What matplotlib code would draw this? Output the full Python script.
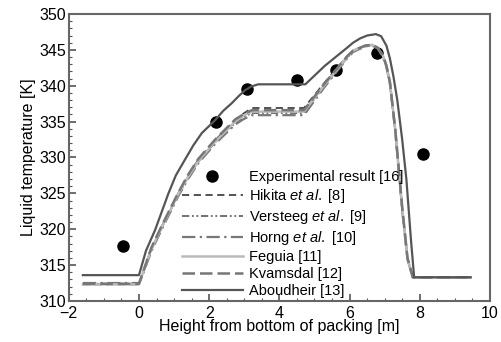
import matplotlib
matplotlib.use('Agg')
import matplotlib.pyplot as plt
from matplotlib.ticker import MultipleLocator

plt.rcParams['font.family'] = ['Liberation Sans', 'DejaVu Sans']
plt.rcParams['mathtext.fontset'] = 'custom'
plt.rcParams['mathtext.rm'] = 'Liberation Sans'
plt.rcParams['mathtext.it'] = 'Liberation Sans:italic'

# experimental points
exp_x = [-0.45, 2.2, 3.08, 4.5, 5.6, 6.78, 8.08]
exp_y = [317.6, 335.0, 339.5, 340.8, 342.2, 344.5, 330.5]

# model curves
cl_x = [-1.6, 0.0, 0.08, 0.35, 0.65, 1.12, 1.4, 1.69, 2.17, 2.74, 3.0, 3.22,
        4.7, 5.3, 5.93, 6.1, 6.45, 6.65, 6.8, 6.95, 7.05, 7.15, 7.3, 7.5,
        7.65, 7.8, 9.45]
hikita_y = [312.3, 312.3, 313.5, 317.3, 320.4, 325.0, 327.5, 329.7, 332.4,
            335.2, 336.2, 336.9, 336.9, 340.5, 344.1, 344.9, 345.6, 345.7,
            345.3, 344.2, 342.8, 340.5, 334.0, 323.0, 316.0, 313.3, 313.3]
versteeg_y = [312.4, 312.4, 313.4, 317.1, 320.2, 324.8, 327.2, 329.4, 332.1,
              334.8, 335.7, 336.2, 336.2, 340.1, 343.9, 344.8, 345.5, 345.6,
              345.2, 344.1, 342.7, 340.4, 333.8, 322.8, 315.9, 313.3, 313.3]
horng_y = [312.5, 312.5, 313.3, 316.9, 320.0, 324.6, 327.0, 329.2, 331.9,
           334.6, 335.4, 335.9, 335.9, 339.9, 343.8, 344.7, 345.5, 345.6,
           345.2, 344.0, 342.6, 340.3, 333.7, 322.7, 315.8, 313.3, 313.3]
feguia_y = [312.3, 312.3, 313.5, 317.2, 320.3, 324.9, 327.3, 329.5, 332.2,
            335.0, 335.9, 336.4, 336.4, 340.2, 344.0, 344.9, 345.6, 345.7,
            345.3, 344.2, 342.8, 340.5, 334.0, 323.0, 316.0, 313.3, 313.3]
kvamsdal_y = [312.4, 312.4, 313.5, 317.4, 320.5, 325.1, 327.6, 329.8, 332.5,
              335.3, 336.1, 336.6, 336.6, 340.4, 344.1, 344.9, 345.6, 345.7,
              345.3, 344.2, 342.8, 340.5, 334.0, 323.0, 316.0, 313.3, 313.3]
abou_x = [-1.6, 0.0, 0.2, 0.46, 0.84, 1.05, 1.31, 1.55, 1.79, 2.17, 2.4, 2.65,
          2.85, 3.03, 3.2, 3.4, 4.74, 5.3, 5.93, 6.1, 6.3, 6.5, 6.75, 6.9,
          7.05, 7.15, 7.25, 7.36, 7.5, 7.62, 7.75, 7.84, 9.45]
abou_y = [313.6, 313.6, 317.0, 319.9, 325.0, 327.5, 329.7, 331.7, 333.4,
          335.2, 336.5, 337.6, 338.6, 339.4, 339.9, 340.2, 340.2, 342.8,
          345.3, 346.0, 346.6, 347.0, 347.2, 346.9, 345.6, 343.8, 341.3,
          338.0, 332.5, 326.9, 318.5, 313.3, 313.3]

fig = plt.figure(figsize=(5.02, 3.42), dpi=100)
ax = fig.add_axes([0.137, 0.12, 0.839, 0.839])

ax.plot(exp_x, exp_y, 'o', color='black', ms=8, label='Experimental result [16]')
ax.plot(cl_x, hikita_y, '--', color='#444444', lw=1.3, dashes=(4, 2.5),
        label=r'Hikita $\mathit{et\ al.}$ [8]')
ax.plot(cl_x, versteeg_y, color='#666666', lw=1.3, dashes=(4, 1.5, 1, 1.5, 1, 1.5),
        label=r'Versteeg $\mathit{et\ al.}$ [9]')
ax.plot(cl_x, horng_y, color='#777777', lw=1.6, dashes=(6, 2, 1, 2),
        label=r'Horng $\mathit{et\ al.}$ [10]')
ax.plot(cl_x, feguia_y, '-', color='#bbbbbb', lw=1.8, label='Feguia [11]')
ax.plot(cl_x, kvamsdal_y, color='#777777', lw=1.8, dashes=(5, 2),
        label='Kvamsdal [12]')
ax.plot(abou_x, abou_y, '-', color='#555555', lw=1.6, label='Aboudheir [13]')

ax.set_xlim(-2, 10)
ax.set_ylim(310, 350)
ax.xaxis.set_major_locator(MultipleLocator(2))
ax.xaxis.set_minor_locator(MultipleLocator(0.5))
ax.yaxis.set_major_locator(MultipleLocator(5))
ax.yaxis.set_minor_locator(MultipleLocator(1))
ax.tick_params(which='both', direction='in', top=False, right=False,
               labelsize=11.5, color='#555555')
ax.tick_params(which='major', length=5, width=1.2)
ax.tick_params(which='minor', length=2.5, width=0.8)
ax.tick_params(axis='x', which='major', pad=3.5)
ax.tick_params(axis='y', which='major', pad=2)
for s in ax.spines.values():
    s.set_color('#666666')
    s.set_linewidth(1.5)

ax.set_xlabel('Height from bottom of packing [m]', fontsize=11.5, labelpad=-1)
ax.set_ylabel('Liquid temperature [K]', fontsize=11.5, labelpad=2)

ax.legend(loc='upper left', bbox_to_anchor=(0.268, 0.455), frameon=False,
          fontsize=10.5, handlelength=4.2, handletextpad=0.45, labelspacing=0.2,
          borderaxespad=0, borderpad=0)

fig.savefig('out.png', dpi=100)
